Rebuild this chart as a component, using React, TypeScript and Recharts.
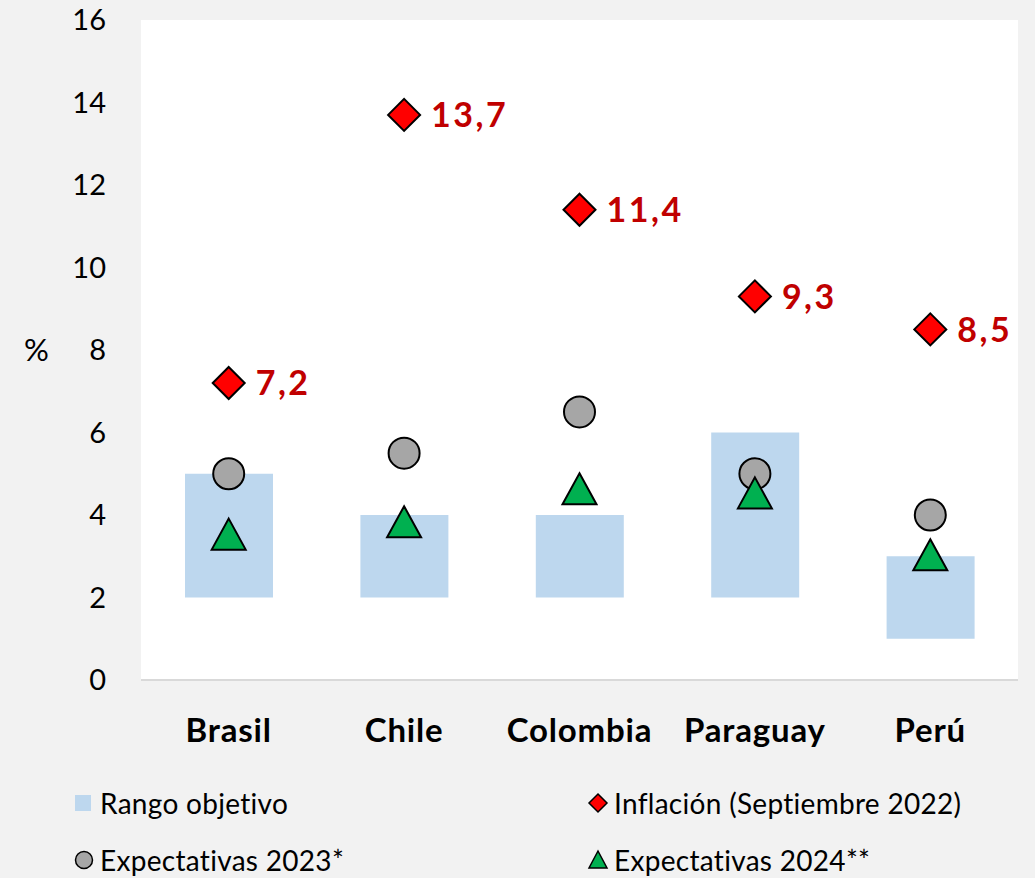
import {
  ComposedChart,
  Bar,
  Line,
  XAxis,
  YAxis,
  CartesianGrid,
  LabelList,
} from "recharts";

const countries = ["Brasil", "Chile", "Colombia", "Paraguay", "Perú"];
const rangeLow = [2, 2, 2, 2, 1];
const rangeHigh = [5, 4, 4, 6, 3];
const inflation = [7.2, 13.7, 11.4, 9.3, 8.5];
const expect2023 = [5.0, 5.5, 6.5, 5.0, 4.0];
const expect2024 = [3.5, 3.8, 4.6, 4.5, 3.0];
const yTicks = [0, 2, 4, 6, 8, 10, 12, 14, 16];

const FONT = "Lato, 'Open Sans', sans-serif";
const BAR_COLOR = "#bdd7ee";
const RED = "#ff0000";
const GRAY = "#a6a6a6";
const GREEN = "#00b050";
const LABEL_RED = "#c00000";

const data = countries.map((c, i) => ({
  country: c,
  range: [rangeLow[i], rangeHigh[i]],
  infl: inflation[i],
  e23: expect2023[i],
  e24: expect2024[i],
}));

const Diamond = (props: any) => {
  const { cx, cy } = props;
  if (cx == null || cy == null) return null;
  const r = 16;
  return (
    <path
      d={`M${cx},${cy - r}L${cx + r},${cy}L${cx},${cy + r}L${cx - r},${cy}Z`}
      fill={RED}
      stroke="#000"
      strokeWidth={2}
    />
  );
};

const Circle = (props: any) => {
  const { cx, cy } = props;
  if (cx == null || cy == null) return null;
  return <circle cx={cx} cy={cy} r={15.5} fill={GRAY} stroke="#000" strokeWidth={2} />;
};

const Triangle = (props: any) => {
  const { cx, cy } = props;
  if (cx == null || cy == null) return null;
  return (
    <path
      d={`M${cx},${cy - 17}L${cx + 17},${cy + 14}L${cx - 17},${cy + 14}Z`}
      fill={GREEN}
      stroke="#000"
      strokeWidth={2}
    />
  );
};

const InflLabel = (props: any) => {
  const { x, y, value } = props;
  return (
    <text
      x={x + 27}
      y={y}
      dy="0.36em"
      fill={LABEL_RED}
      fontSize={34}
      fontWeight={700}
      letterSpacing={2.5}
      fontFamily={FONT}
    >
      {String(value).replace(".", ",")}
    </text>
  );
};

const CountryTick = (props: any) => {
  const { x, payload } = props;
  return (
    <text
      x={x}
      y={730}
      dy="0.36em"
      textAnchor="middle"
      fontSize={33}
      fontWeight={700}
      letterSpacing={0.8}
      fill="#000"
      fontFamily={FONT}
    >
      {payload.value}
    </text>
  );
};

const legendText: React.CSSProperties = {
  position: "absolute",
  fontSize: 28,
  fontFamily: FONT,
  color: "#000",
  lineHeight: "30px",
  whiteSpace: "nowrap",
  letterSpacing: 0.3,
};

export default function App() {
  return (
    <div
      style={{
        position: "absolute",
        left: 0,
        top: 0,
        width: 1035,
        height: 878,
        background: "#f2f2f2",
        fontFamily: FONT,
      }}
    >
      <ComposedChart
        width={1035}
        height={878}
        data={data}
        margin={{ top: 20, right: 17, bottom: 98, left: 0 }}
        barCategoryGap="25%"
      >
        <CartesianGrid fill="#ffffff" stroke="none" horizontal={false} vertical={false} />
        <XAxis
          dataKey="country"
          height={100}
          axisLine={{ stroke: "#d9d9d9", strokeWidth: 2 }}
          tickLine={false}
          tick={<CountryTick />}
          interval={0}
        />
        <YAxis
          width={141}
          domain={[0, 16]}
          ticks={yTicks}
          axisLine={false}
          tickLine={false}
          tickSize={0}
          tickMargin={35}
          tick={{ fontSize: 29, fill: "#000", fontFamily: FONT }}
          label={{
            value: "%",
            position: "insideLeft",
            offset: 24,
            angle: 0,
            fontSize: 31,
            fill: "#000",
            fontFamily: FONT,
          }}
        />
        <Bar dataKey="range" fill={BAR_COLOR} barSize={88} isAnimationActive={false} />
        <Line
          dataKey="e23"
          stroke="none"
          dot={<Circle />}
          activeDot={false}
          isAnimationActive={false}
        />
        <Line
          dataKey="e24"
          stroke="none"
          dot={<Triangle />}
          activeDot={false}
          isAnimationActive={false}
        />
        <Line
          dataKey="infl"
          stroke="none"
          dot={<Diamond />}
          activeDot={false}
          isAnimationActive={false}
        >
          <LabelList dataKey="infl" content={<InflLabel />} />
        </Line>
      </ComposedChart>

      {/* legend */}
      <div style={{ position: "absolute", left: 75, top: 795, width: 16, height: 16, background: BAR_COLOR }} />
      <div style={{ ...legendText, left: 100, top: 788 }}>Rango objetivo</div>

      <svg style={{ position: "absolute", left: 72, top: 848 }} width={24} height={24}>
        <circle cx={12} cy={12} r={8.5} fill={GRAY} stroke="#000" strokeWidth={1.5} />
      </svg>
      <div style={{ ...legendText, left: 100, top: 845 }}>Expectativas 2023*</div>

      <svg style={{ position: "absolute", left: 586, top: 791 }} width={24} height={24}>
        <path d="M12,3L21,12L12,21L3,12Z" fill={RED} stroke="#000" strokeWidth={1.5} />
      </svg>
      <div style={{ ...legendText, left: 614, top: 788 }}>Inflación (Septiembre 2022)</div>

      <svg style={{ position: "absolute", left: 586, top: 848 }} width={24} height={24}>
        <path d="M12,3L21,20L3,20Z" fill={GREEN} stroke="#000" strokeWidth={1.5} />
      </svg>
      <div style={{ ...legendText, left: 614, top: 845 }}>Expectativas 2024**</div>
    </div>
  );
}
